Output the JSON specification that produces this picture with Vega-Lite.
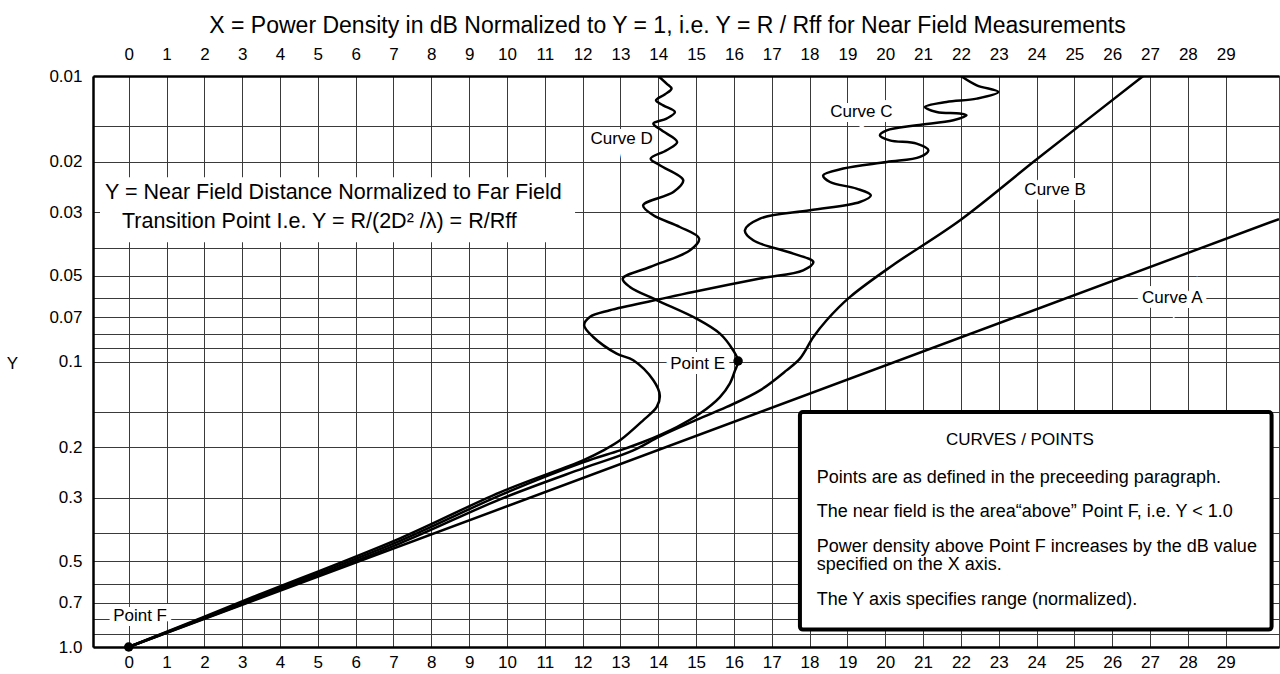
{
  "$schema": "https://vega.github.io/schema/vega-lite/v6.json",
  "width": 1186,
  "height": 571,
  "autosize": {"type": "none"},
  "padding": {"left": 93, "top": 76, "right": 1, "bottom": 27},
  "background": "white",
  "config": {
    "font": "Liberation Sans",
    "view": {"stroke": "#444444", "strokeWidth": 1},
    "axis": {
      "labelColor": "black", "titleColor": "black",
      "labelFont": "Liberation Sans", "titleFont": "Liberation Sans",
      "titleFontWeight": "normal",
      "gridColor": "#3a3a3a", "gridOpacity": 1, "gridWidth": 1,
      "domainColor": "black", "domainWidth": 2.5,
      "ticks": false, "labelFontSize": 17,
      "labelFlush": false, "labelOverlap": false
    }
  },
  "datasets": {
    "boxes": [
      {"box": "description", "x": -0.759, "x2": 11.8, "y": 0.02264, "y2": 0.03824},
      {"box": "legend", "x": 17.745, "x2": 30.214, "y": 0.1503, "y2": 0.8692}
    ],
    "curves": [
      {"curve": "A", "i": 0, "x": 0, "y": 1},
      {"curve": "A", "i": 1, "x": 30.41, "y": 0.0317},
      {"curve": "B", "i": 0, "x": 0, "y": 1},
      {"curve": "B", "i": 1, "x": 3.206, "y": 0.6916},
      {"curve": "B", "i": 2, "x": 7.172, "y": 0.4334},
      {"curve": "B", "i": 3, "x": 9.815, "y": 0.3039},
      {"curve": "B", "i": 4, "x": 12.01, "y": 0.2367},
      {"curve": "B", "i": 5, "x": 13.34, "y": 0.2047},
      {"curve": "B", "i": 6, "x": 14.04, "y": 0.1828},
      {"curve": "B", "i": 7, "x": 14.92, "y": 0.162},
      {"curve": "B", "i": 8, "x": 15.81, "y": 0.1443},
      {"curve": "B", "i": 9, "x": 16.69, "y": 0.1262},
      {"curve": "B", "i": 10, "x": 17.39, "y": 0.1074},
      {"curve": "B", "i": 11, "x": 17.75, "y": 0.0975},
      {"curve": "B", "i": 12, "x": 18.1, "y": 0.0821},
      {"curve": "B", "i": 13, "x": 18.45, "y": 0.0717},
      {"curve": "B", "i": 14, "x": 19.07, "y": 0.0594},
      {"curve": "B", "i": 15, "x": 20.2, "y": 0.046},
      {"curve": "B", "i": 16, "x": 21.98, "y": 0.032},
      {"curve": "B", "i": 17, "x": 23.98, "y": 0.0197},
      {"curve": "B", "i": 18, "x": 26.82, "y": 0.01},
      {"curve": "C", "i": 1, "x": 22.0, "y": 0.01},
      {"curve": "C", "i": 2, "x": 22.42, "y": 0.01078},
      {"curve": "C", "i": 3, "x": 22.99, "y": 0.01138},
      {"curve": "C", "i": 4, "x": 22.42, "y": 0.012},
      {"curve": "C", "i": 5, "x": 21.62, "y": 0.01233},
      {"curve": "C", "i": 6, "x": 21.05, "y": 0.01284},
      {"curve": "C", "i": 7, "x": 21.36, "y": 0.01337},
      {"curve": "C", "i": 8, "x": 21.97, "y": 0.01354},
      {"curve": "C", "i": 9, "x": 22.15, "y": 0.01373},
      {"curve": "C", "i": 10, "x": 21.8, "y": 0.01429},
      {"curve": "C", "i": 11, "x": 20.83, "y": 0.01488},
      {"curve": "C", "i": 12, "x": 20.04, "y": 0.0155},
      {"curve": "C", "i": 13, "x": 19.86, "y": 0.01613},
      {"curve": "C", "i": 14, "x": 20.12, "y": 0.0168},
      {"curve": "C", "i": 15, "x": 20.83, "y": 0.01725},
      {"curve": "C", "i": 16, "x": 21.14, "y": 0.0182},
      {"curve": "C", "i": 17, "x": 20.92, "y": 0.01921},
      {"curve": "C", "i": 18, "x": 20.04, "y": 0.02001},
      {"curve": "C", "i": 19, "x": 18.89, "y": 0.0211},
      {"curve": "C", "i": 20, "x": 18.36, "y": 0.02228},
      {"curve": "C", "i": 21, "x": 18.54, "y": 0.02351},
      {"curve": "C", "i": 22, "x": 19.24, "y": 0.0248},
      {"curve": "C", "i": 23, "x": 19.62, "y": 0.02617},
      {"curve": "C", "i": 24, "x": 19.33, "y": 0.02763},
      {"curve": "C", "i": 25, "x": 18.01, "y": 0.02954},
      {"curve": "C", "i": 26, "x": 16.69, "y": 0.03159},
      {"curve": "C", "i": 27, "x": 16.29, "y": 0.03471},
      {"curve": "C", "i": 28, "x": 16.51, "y": 0.03763},
      {"curve": "C", "i": 29, "x": 17.57, "y": 0.04189},
      {"curve": "C", "i": 30, "x": 18.1, "y": 0.04482},
      {"curve": "C", "i": 31, "x": 17.83, "y": 0.04792},
      {"curve": "C", "i": 32, "x": 16.69, "y": 0.05124},
      {"curve": "C", "i": 33, "x": 14.92, "y": 0.05708},
      {"curve": "C", "i": 34, "x": 14.0, "y": 0.06068},
      {"curve": "C", "i": 35, "x": 12.72, "y": 0.06616},
      {"curve": "C", "i": 36, "x": 12.19, "y": 0.06984},
      {"curve": "C", "i": 37, "x": 12.04, "y": 0.07468},
      {"curve": "C", "i": 38, "x": 12.28, "y": 0.08206},
      {"curve": "C", "i": 39, "x": 12.9, "y": 0.09383},
      {"curve": "C", "i": 40, "x": 13.34, "y": 0.09903},
      {"curve": "C", "i": 41, "x": 13.87, "y": 0.11637},
      {"curve": "C", "i": 42, "x": 14.04, "y": 0.13134},
      {"curve": "C", "i": 43, "x": 13.96, "y": 0.14431},
      {"curve": "C", "i": 44, "x": 13.6, "y": 0.1607},
      {"curve": "C", "i": 45, "x": 12.99, "y": 0.1888},
      {"curve": "C", "i": 46, "x": 12.55, "y": 0.2047},
      {"curve": "C", "i": 47, "x": 12.01, "y": 0.2219},
      {"curve": "C", "i": 48, "x": 9.815, "y": 0.2872},
      {"curve": "C", "i": 49, "x": 7.172, "y": 0.4162},
      {"curve": "C", "i": 50, "x": 3.206, "y": 0.6751},
      {"curve": "C", "i": 51, "x": 0, "y": 1},
      {"curve": "D", "i": 1, "x": 14.0, "y": 0.01},
      {"curve": "D", "i": 2, "x": 14.22, "y": 0.01063},
      {"curve": "D", "i": 3, "x": 14.35, "y": 0.01107},
      {"curve": "D", "i": 4, "x": 14.18, "y": 0.01159},
      {"curve": "D", "i": 5, "x": 13.94, "y": 0.01217},
      {"curve": "D", "i": 6, "x": 14.13, "y": 0.01267},
      {"curve": "D", "i": 7, "x": 14.44, "y": 0.01337},
      {"curve": "D", "i": 8, "x": 14.22, "y": 0.0141},
      {"curve": "D", "i": 9, "x": 13.87, "y": 0.01468},
      {"curve": "D", "i": 10, "x": 14.09, "y": 0.0155},
      {"curve": "D", "i": 11, "x": 14.5, "y": 0.01703},
      {"curve": "D", "i": 12, "x": 14.22, "y": 0.0182},
      {"curve": "D", "i": 13, "x": 13.8, "y": 0.01947},
      {"curve": "D", "i": 14, "x": 14.04, "y": 0.02055},
      {"curve": "D", "i": 15, "x": 14.66, "y": 0.02319},
      {"curve": "D", "i": 16, "x": 14.4, "y": 0.02549},
      {"curve": "D", "i": 17, "x": 13.6, "y": 0.02838},
      {"curve": "D", "i": 18, "x": 13.87, "y": 0.03075},
      {"curve": "D", "i": 19, "x": 14.57, "y": 0.0338},
      {"curve": "D", "i": 20, "x": 15.08, "y": 0.03711},
      {"curve": "D", "i": 21, "x": 14.84, "y": 0.04079},
      {"curve": "D", "i": 22, "x": 13.78, "y": 0.04667},
      {"curve": "D", "i": 23, "x": 13.06, "y": 0.05124},
      {"curve": "D", "i": 24, "x": 13.25, "y": 0.05483},
      {"curve": "D", "i": 25, "x": 13.97, "y": 0.06104},
      {"curve": "D", "i": 26, "x": 15.01, "y": 0.07075},
      {"curve": "D", "i": 27, "x": 15.63, "y": 0.07985},
      {"curve": "D", "i": 28, "x": 15.98, "y": 0.09138},
      {"curve": "D", "i": 29, "x": 16.11, "y": 0.0996},
      {"curve": "D", "i": 30, "x": 16.03, "y": 0.1074},
      {"curve": "D", "i": 31, "x": 15.89, "y": 0.1195},
      {"curve": "D", "i": 32, "x": 15.63, "y": 0.1332},
      {"curve": "D", "i": 33, "x": 15.1, "y": 0.1522},
      {"curve": "D", "i": 34, "x": 14.49, "y": 0.1696},
      {"curve": "D", "i": 35, "x": 13.6, "y": 0.1914},
      {"curve": "D", "i": 36, "x": 12.99, "y": 0.2047},
      {"curve": "D", "i": 37, "x": 12.01, "y": 0.2255},
      {"curve": "D", "i": 38, "x": 9.815, "y": 0.2943},
      {"curve": "D", "i": 39, "x": 7.172, "y": 0.4247},
      {"curve": "D", "i": 40, "x": 3.206, "y": 0.6833},
      {"curve": "D", "i": 41, "x": 0, "y": 1}
    ],
    "points": [
      {"name": "Point E", "x": 16.11, "y": 0.0996},
      {"name": "Point F", "x": 0, "y": 1}
    ],
    "labels": [
      {"text": "Curve D", "x": 13.03, "y": 0.01666},
      {"text": "Curve C", "x": 19.37, "y": 0.01335},
      {"text": "Curve B", "x": 24.49, "y": 0.02504},
      {"text": "Curve A", "x": 27.59, "y": 0.06005},
      {"text": "Point E", "x": 15.04, "y": 0.1023},
      {"text": "Point F", "x": 0.3, "y": 0.7807}
    ],
    "description": [
      {"text": "Y = Near Field Distance Normalized to Far Field", "x": -0.6265, "y": 0.02576},
      {"text": "Transition Point I.e.  Y =  R/(2D² /λ) = R/Rff", "x": -0.177, "y": 0.03254}
    ],
    "legendHead": [
      {"text": "CURVES / POINTS", "x": 23.56, "y": 0.1877}
    ],
    "legendLines": [
      {"text": "Points are as defined in the preceeding paragraph.", "x": 18.187, "y": 0.255},
      {"text": "The near field is the area“above” Point F,   i.e. Y  < 1.0", "x": 18.187, "y": 0.3367},
      {"text": "Power density above Point F increases by the dB value\nspecified on the X axis.", "x": 18.187, "y": 0.4471},
      {"text": "The Y axis specifies range (normalized).", "x": 18.187, "y": 0.686}
    ]
  },
  "layer": [
    {
      "data": {"name": "boxes"},
      "transform": [{"filter": "datum.box == 'description'"}],
      "mark": {"type": "rect", "fill": "white", "strokeWidth": 0},
      "encoding": {
        "x": {"field": "x", "type": "quantitative",
          "scale": {"domain": [-0.944, 30.41], "nice": false, "zero": false},
          "axis": {"orient": "bottom", "values": [0,1,2,3,4,5,6,7,8,9,10,11,12,13,14,15,16,17,18,19,20,21,22,23,24,25,26,27,28,29],
            "format": "d", "grid": true, "labelPadding": 7, "title": null}},
        "x2": {"field": "x2"},
        "y": {"field": "y", "type": "quantitative",
          "scale": {"type": "log", "domain": [0.01, 1], "reverse": true, "nice": false},
          "axis": {"values": [0.01,0.015,0.02,0.03,0.04,0.05,0.06,0.07,0.08,0.09,0.1,0.15,0.2,0.3,0.4,0.5,0.6,0.7,0.8,0.9,1],
            "grid": true, "labelPadding": 11,
            "labelExpr": "datum.value == 1 ? '1.0' : (indexof([0.01,0.02,0.03,0.05,0.07,0.1,0.2,0.3,0.5,0.7], datum.value) >= 0 ? format(datum.value, '.2~f') : '')",
            "title": "Y", "titleAngle": 0, "titleX": -81, "titleY": 287, "titleFontSize": 17,
            "titleAlign": "center", "titleBaseline": "middle"}},
        "y2": {"field": "y2"}
      }
    },
    {
      "data": {"name": "boxes"},
      "transform": [{"filter": "datum.box == 'legend'"}],
      "mark": {"type": "rect", "fill": "white", "stroke": "black", "strokeWidth": 4, "cornerRadius": 3},
      "encoding": {
        "x": {"field": "x", "type": "quantitative",
          "scale": {"domain": [-0.944, 30.41], "nice": false, "zero": false},
          "axis": {"orient": "top", "values": [0,1,2,3,4,5,6,7,8,9,10,11,12,13,14,15,16,17,18,19,20,21,22,23,24,25,26,27,28,29],
            "format": "d", "grid": false, "labelPadding": 13,
            "title": "X = Power Density in dB Normalized to Y = 1, i.e. Y = R / Rff for Near Field Measurements",
            "titleFontSize": 23, "titlePadding": 8, "titleX": 574}},
        "x2": {"field": "x2"},
        "y": {"field": "y", "type": "quantitative",
          "scale": {"type": "log", "domain": [0.01, 1], "reverse": true, "nice": false}},
        "y2": {"field": "y2"}
      }
    },
    {
      "data": {"name": "labels"},
      "mark": {"type": "text", "fontSize": 17, "align": "center", "baseline": "middle", "fill": "white", "stroke": "white", "strokeWidth": 10},
      "encoding": {
        "x": {"field": "x", "type": "quantitative", "scale": {"domain": [-0.944, 30.41], "nice": false, "zero": false}, "axis": null},
        "y": {"field": "y", "type": "quantitative", "scale": {"type": "log", "domain": [0.01, 1], "reverse": true, "nice": false}},
        "text": {"field": "text"}
      }
    },
    {
      "data": {"name": "curves"},
      "mark": {"type": "line", "stroke": "black", "strokeWidth": 2.5, "interpolate": "catmull-rom", "clip": true},
      "encoding": {
        "x": {"field": "x", "type": "quantitative", "scale": {"domain": [-0.944, 30.41], "nice": false, "zero": false}, "axis": null},
        "y": {"field": "y", "type": "quantitative", "scale": {"type": "log", "domain": [0.01, 1], "reverse": true, "nice": false}},
        "detail": {"field": "curve"},
        "order": {"field": "i", "type": "quantitative"}
      }
    },
    {
      "data": {"name": "points"},
      "mark": {"type": "circle", "color": "black", "opacity": 1, "size": 90},
      "encoding": {
        "x": {"field": "x", "type": "quantitative", "scale": {"domain": [-0.944, 30.41], "nice": false, "zero": false}, "axis": null},
        "y": {"field": "y", "type": "quantitative", "scale": {"type": "log", "domain": [0.01, 1], "reverse": true, "nice": false}}
      }
    },
    {
      "data": {"name": "labels"},
      "mark": {"type": "text", "fontSize": 17, "align": "center", "baseline": "middle", "color": "black"},
      "encoding": {
        "x": {"field": "x", "type": "quantitative", "scale": {"domain": [-0.944, 30.41], "nice": false, "zero": false}, "axis": null},
        "y": {"field": "y", "type": "quantitative", "scale": {"type": "log", "domain": [0.01, 1], "reverse": true, "nice": false}},
        "text": {"field": "text"}
      }
    },
    {
      "data": {"name": "description"},
      "mark": {"type": "text", "fontSize": 21.5, "align": "left", "baseline": "middle", "color": "black"},
      "encoding": {
        "x": {"field": "x", "type": "quantitative", "scale": {"domain": [-0.944, 30.41], "nice": false, "zero": false}, "axis": null},
        "y": {"field": "y", "type": "quantitative", "scale": {"type": "log", "domain": [0.01, 1], "reverse": true, "nice": false}},
        "text": {"field": "text"}
      }
    },
    {
      "data": {"name": "legendHead"},
      "mark": {"type": "text", "fontSize": 17, "align": "center", "baseline": "middle", "color": "black"},
      "encoding": {
        "x": {"field": "x", "type": "quantitative", "scale": {"domain": [-0.944, 30.41], "nice": false, "zero": false}, "axis": null},
        "y": {"field": "y", "type": "quantitative", "scale": {"type": "log", "domain": [0.01, 1], "reverse": true, "nice": false}},
        "text": {"field": "text"}
      }
    },
    {
      "data": {"name": "legendLines"},
      "mark": {"type": "text", "fontSize": 18, "align": "left", "baseline": "middle", "color": "black", "lineBreak": "\n", "lineHeight": 18},
      "encoding": {
        "x": {"field": "x", "type": "quantitative", "scale": {"domain": [-0.944, 30.41], "nice": false, "zero": false}, "axis": null},
        "y": {"field": "y", "type": "quantitative", "scale": {"type": "log", "domain": [0.01, 1], "reverse": true, "nice": false}},
        "text": {"field": "text"}
      }
    }
  ],
  "resolve": {"axis": {"x": "independent"}}
}
